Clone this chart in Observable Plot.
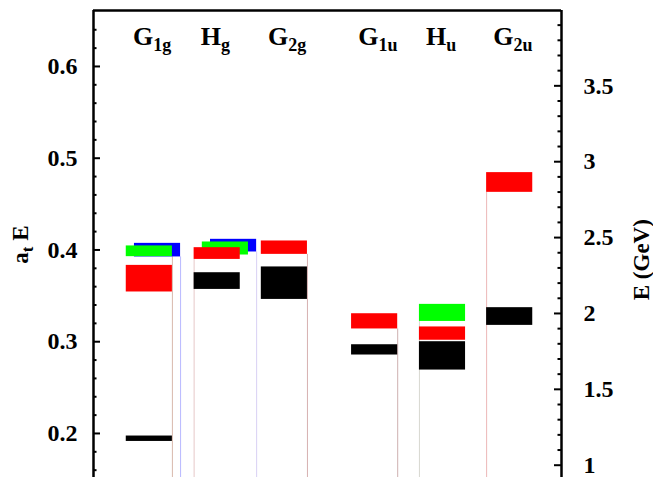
<!DOCTYPE html>
<html>
<head>
<meta charset="utf-8">
<script src="https://cdn.jsdelivr.net/npm/d3@7"></script>
<script src="https://cdn.jsdelivr.net/npm/@observablehq/plot@0.6"></script>
<style>
  html, body { margin: 0; padding: 0; background: #ffffff; }
  #chart { width: 653px; height: 477px; }
</style>
</head>
<body>
<div id="chart"></div>
<script>
// ---------------- data ----------------
const channels   = ["G1g", "Hg", "G2g", "G1u", "Hu", "G2u"];
const labelMain  = ["G", "H", "G", "G", "H", "G"];
const labelSub   = ["1g", "g", "2g", "1u", "u", "2u"];

// energy levels (a_t E bands)
const levelChannel = ["G1g","G1g","G1g","G1g","Hg","Hg","Hg","Hg","G2g","G2g","G1u","G1u","Hu","Hu","Hu","G2u","G2u"];
const levelColour  = ["blue","green","red","black","blue","green","red","black","red","black","red","black","green","red","black","red","black"];
const levelLow     = [0.3924,0.3927,0.3542,0.1913,0.3978,0.3945,0.3897,0.3570,0.3952,0.3461,0.3139,0.2855,0.3221,0.3016,0.2691,0.4628,0.3178];
const levelHigh    = [0.4072,0.4044,0.3832,0.1972,0.4116,0.4087,0.4025,0.3752,0.4098,0.3815,0.3305,0.2967,0.3407,0.3161,0.3000,0.4843,0.3371];

// inverse temporal lattice spacing (GeV), relates right axis to left axis
const atInvGeV = 6.046;

// tick labels
const leftMajor  = [0.2, 0.3, 0.4, 0.5, 0.6];
const leftMinor  = [0.16, 0.18, 0.22, 0.24, 0.26, 0.28, 0.32, 0.34, 0.36, 0.38, 0.42, 0.44, 0.46, 0.48, 0.52, 0.54, 0.56, 0.58, 0.62, 0.64];
const rightMajor = [1, 1.5, 2, 2.5, 3, 3.5];
const rightMinor = [1.1, 1.2, 1.3, 1.4, 1.6, 1.7, 1.8, 1.9, 2.1, 2.2, 2.3, 2.4, 2.6, 2.7, 2.8, 2.9, 3.1, 3.2, 3.3, 3.4, 3.6, 3.7, 3.8, 3.9];

// ---------------- layout / style ----------------
const slotLeft   = {G1g: 0.98, Hg: 3.01, G2g: 5.02, G1u: 7.72, Hu: 9.75, G2u: 11.76};
const boxWidth   = 1.38;
const shiftStep  = 0.245;
const levelShift = [1,0,0,0, 2,1,0,0, 0,0, 0,0, 0,0,0, 0,0];
const fillOf = {blue: "#0000ff", green: "#00ff00", red: "#ff0000", black: "#000000"};

// pale edge lines dropping from the bands
const edgeChannel = ["G1g","G1g","Hg","Hg","G2g","G1u","Hu","G2u"];
const edgeSide    = ["right","right","left","right","right","right","left","left"];
const edgeShift   = [0,1,0,2,0,0,0,0];
const edgeTop     = [0.3927,0.3924,0.3897,0.3978,0.3952,0.3139,0.3221,0.4628];
const edgeColour  = ["#d8b8ac","#b8b8ff","#e6c8c8","#d8d0f4","#d6b0b0","#ceb0b0","#d8d8d0","#ecb8b8"];

const yMin = 0.152, yMax = 0.661, xMax = 14;

const levels = levelChannel.map((c, i) => ({
  x1: slotLeft[c] + levelShift[i] * shiftStep,
  x2: slotLeft[c] + levelShift[i] * shiftStep + boxWidth,
  y1: levelLow[i], y2: levelHigh[i], fill: fillOf[levelColour[i]]
}));
const edges = edgeChannel.map((c, i) => ({
  x: slotLeft[c] + edgeShift[i] * shiftStep + (edgeSide[i] === "right" ? boxWidth : 0),
  top: edgeTop[i], stroke: edgeColour[i]
}));
const k = 1 / atInvGeV;
const font = "'Liberation Serif', 'Times New Roman', serif";

const chart = Plot.plot({
  width: 653, height: 477,
  marginLeft: 93, marginRight: 92, marginTop: 10, marginBottom: 0,
  x: {domain: [0, xMax], axis: null},
  y: {domain: [yMin, yMax]},
  style: {fontFamily: font, fontWeight: "bold", background: "#ffffff", color: "#000000"},
  marks: [
    Plot.ruleX(edges, {x: "x", y1: "top", y2: yMin, stroke: "stroke", strokeWidth: 1}),
    Plot.rect(levels, {x1: "x1", x2: "x2", y1: "y1", y2: "y2", fill: "fill"}),
    // frame
    Plot.ruleX([0, xMax], {stroke: "#000000", strokeWidth: 2.5}),
    Plot.ruleY([yMax], {stroke: "#000000", strokeWidth: 2.5}),
    // inward ticks, left
    Plot.ruleY(leftMajor, {y: d => d, x1: 0, x2: 0.21, stroke: "#000000", strokeWidth: 2}),
    Plot.ruleY(leftMinor, {y: d => d, x1: 0, x2: 0.105, stroke: "#000000", strokeWidth: 2}),
    // inward ticks, right
    Plot.ruleY(rightMajor, {y: d => d * k, x1: xMax - 0.21, x2: xMax, stroke: "#000000", strokeWidth: 2}),
    Plot.ruleY(rightMinor, {y: d => d * k, x1: xMax - 0.105, x2: xMax, stroke: "#000000", strokeWidth: 2}),
    // tick labels
    Plot.axisY({ticks: leftMajor, tickSize: 0, tickPadding: 16, label: null,
      tickFormat: d => d3.format(".1f")(d), fontSize: 24, fontWeight: "bold", fontFamily: font}),
    Plot.axisY({anchor: "right", ticks: rightMajor.map(e => e * k), tickSize: 0, tickPadding: 22, label: null,
      tickFormat: d => String(Math.round(d * atInvGeV * 10) / 10), fontSize: 24, fontWeight: "bold", fontFamily: font}),
    // channel labels
    Plot.text(channels, {x: c => slotLeft[c] + 0.2, y: 0.632, text: c => c, textAnchor: "start",
      fontSize: 26, fontWeight: "bold", fontFamily: font}),
    // axis titles
    Plot.text(["atE"], {frameAnchor: "left", y: 0.4058, dx: -73, rotate: -90, text: d => d,
      textAnchor: "middle", fontSize: 23, fontWeight: "bold", fontFamily: font}),
    Plot.text(["E (GeV)"], {frameAnchor: "right", y: 0.3894, dx: 80, rotate: -90, text: d => d,
      textAnchor: "middle", fontSize: 23, fontWeight: "bold", fontFamily: font})
  ]
});

// subscripts via tspans
const NS = "http://www.w3.org/2000/svg";
chart.querySelectorAll("text").forEach(t => {
  const s = t.textContent;
  const idx = channels.indexOf(s);
  if (idx >= 0) {
    t.textContent = "";
    const a = document.createElementNS(NS, "tspan");
    a.textContent = labelMain[idx];
    const b = document.createElementNS(NS, "tspan");
    b.textContent = labelSub[idx];
    b.setAttribute("font-size", "18");
    b.setAttribute("dy", "6");
    t.appendChild(a); t.appendChild(b);
  } else if (s === "atE") {
    t.textContent = "";
    const a = document.createElementNS(NS, "tspan");
    a.textContent = "a";
    const b = document.createElementNS(NS, "tspan");
    b.textContent = "t";
    b.setAttribute("font-size", "17");
    b.setAttribute("dy", "5");
    const c = document.createElementNS(NS, "tspan");
    c.textContent = "\u00a0E";
    c.setAttribute("dy", "-5");
    t.appendChild(a); t.appendChild(b); t.appendChild(c);
  }
});

document.getElementById("chart").appendChild(chart);
</script>
</body>
</html>
